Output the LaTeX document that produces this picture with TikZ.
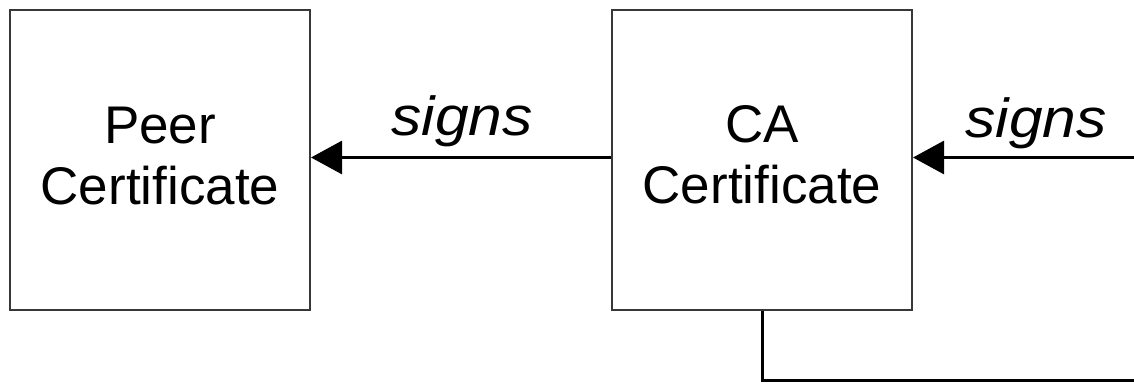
\documentclass[tikz,border=0pt]{standalone}
\usepackage{fontspec}
\setmainfont{Liberation Sans}
\usetikzlibrary{arrows.meta}
\begin{document}
\begin{tikzpicture}[x=1pt,y=-1pt,
  certbox/.style={draw=black!78,line width=2pt,minimum width=300pt,minimum height=300pt,inner sep=0pt},
  boxtxt/.style={anchor=base,inner sep=0pt,font=\fontsize{53}{61}\selectfont},
  conn/.style={line width=3pt,black},
  sig/.style={-{Triangle[length=31pt,width=33pt]},line width=3pt,black},
  lbl/.style={anchor=base,font=\fontsize{55}{61}\selectfont\itshape,inner sep=0pt,xscale=1.1}]
\useasboundingbox (0,0) rectangle (1134,383);
\node[certbox] (peer) at (160,159.5) {};
\node[certbox] (ca) at (762,159.5) {};
\node[boxtxt] (peer1) at (160,143) {Peer};
\node[boxtxt] (peer2) at (160,204) {Certificate};
\node[boxtxt] (ca1) at (762,142) {CA};
\node[boxtxt] (ca2) at (762,203) {Certificate};
\coordinate (rin) at (1134,157.5);
\coordinate (rbot) at (1134,380.5);
\draw[sig] (ca.west |- 0,157.5) -- (peer.east |- 0,157.5);
\draw[sig] (rin) -- (ca.east |- rin);
\draw[conn] (ca.south) |- (rbot);
\node[lbl] (s1) at (462,135) {signs};
\node[lbl] (s2) at (1036,137) {signs};
\end{tikzpicture}
\end{document}
